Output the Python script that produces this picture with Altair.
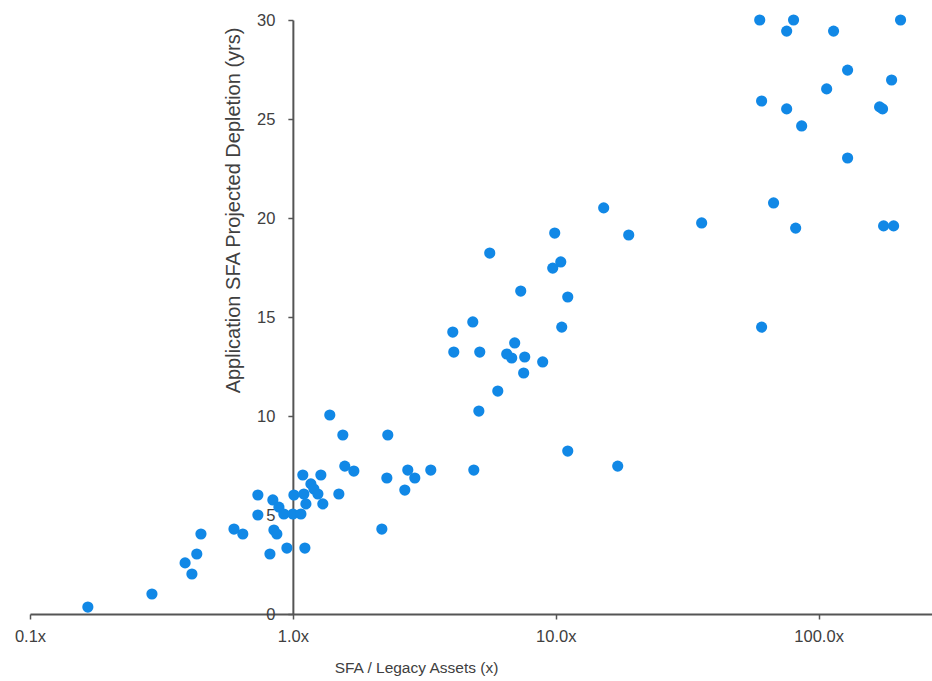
import altair as alt
import pandas as pd
import math

# SFA / Legacy Assets ratio (x) and projected depletion (years)
ratio = [
    0.166, 0.291, 0.389, 0.413, 0.431, 0.447, 0.597, 0.645, 0.736, 0.736,
    0.818, 0.839, 0.847, 0.869, 0.885, 0.924, 0.949, 1.009, 1.000, 1.073,
    1.111, 1.091, 1.101, 1.171, 1.202, 1.245, 1.278, 1.121, 1.300, 1.496,
    1.382, 1.549, 2.297, 1.576, 1.706, 2.278, 2.736, 2.910, 3.347, 2.666,
    2.180, 4.879,
    15.22, 35.9, 9.91, 18.95, 5.61, 10.45, 9.74, 7.36, 11.11, 4.836,
    4.058, 10.54, 4.094, 5.14, 6.98, 6.51, 6.80, 7.62, 8.92, 7.55,
    6.02, 5.10, 11.11, 17.21,
    59.7, 80.3, 75.6, 114.0, 205.0, 128.9, 189.5, 107.3, 60.7, 75.6,
    170.6, 175.1, 86.2, 128.9, 67.4, 81.8, 176.7, 192.9, 60.7,
]
years = [
    0.35, 1.01, 2.58, 2.02, 3.03, 4.04, 4.29, 4.04, 6.01, 5.00,
    3.03, 5.76, 4.24, 4.04, 5.40, 5.05, 3.33, 6.01, 5.05, 5.05,
    3.33, 7.02, 6.06, 6.57, 6.31, 6.06, 7.02, 5.56, 5.56, 6.06,
    10.05, 9.04, 9.04, 7.47, 7.22, 6.87, 7.27, 6.87, 7.27, 6.26,
    4.29, 7.27,
    20.51, 19.75, 19.24, 19.14, 18.23, 17.78, 17.47, 16.31, 16.01, 14.75,
    14.24, 14.49, 13.23, 13.23, 13.69, 13.13, 12.93, 12.98, 12.73, 12.17,
    11.26, 10.25, 8.23, 7.47,
    30.0, 30.0, 29.44, 29.44, 30.0, 27.47, 26.97, 26.52, 25.91, 25.51,
    25.61, 25.51, 24.65, 23.03, 20.76, 19.49, 19.6, 19.6, 14.49,
]
x_ticks = [0.1, 1, 10, 100]
y_ticks = [0, 5, 10, 15, 20, 25, 30]

df = pd.DataFrame({"ratio": ratio, "years": years})

FONT = "Liberation Sans, Arial, sans-serif"
TEXT = "#404040"
AXIS = "#555555"

W, H = 902, 594
X_MIN, X_MAX = 0.1, 270
decade = W / (math.log10(X_MAX) - math.log10(X_MIN))
y_axis_offset = -decade  # move y axis to x = 1.0

chart = alt.Chart(df).mark_circle(
    size=125, color="#1188E6", opacity=1, clip=False
).encode(
    x=alt.X(
        "ratio:Q",
        scale=alt.Scale(type="log", domain=[X_MIN, X_MAX], nice=False),
        axis=alt.Axis(
            values=x_ticks,
            labelExpr="format(datum.value, '.1f') + 'x'",
            title="SFA / Legacy Assets (x)",
            titleX=386, titleY=58, titleAlign="center",
            titleBaseline="alphabetic", titleAnchor="start",
            titleFont=FONT, titleFontSize=15.5, titleFontWeight="normal",
            titleColor=TEXT,
            labelFont=FONT, labelFontSize=16.5, labelColor=TEXT,
            labelPadding=9, tickSize=5, tickColor=AXIS, tickWidth=1.5,
            domainColor=AXIS, domainWidth=2, grid=False,
            labelFlush=False, labelOverlap=False,
        ),
    ),
    y=alt.Y(
        "years:Q",
        scale=alt.Scale(domain=[0, 30], nice=False, zero=True),
        axis=alt.Axis(
            values=y_ticks,
            offset=y_axis_offset,
            title="Application SFA Projected Depletion (yrs)",
            titleX=-59, titleY=190, titleAngle=270,
            titleAlign="center", titleBaseline="middle", titleAnchor="start",
            titleFont=FONT, titleFontSize=20, titleFontWeight="normal",
            titleColor=TEXT,
            labelFont=FONT, labelFontSize=16.5, labelColor=TEXT,
            labelPadding=13, tickSize=5, tickColor=AXIS, tickWidth=1.5,
            domainColor=AXIS, domainWidth=2, grid=False,
            labelFlush=False, labelOverlap=False,
        ),
    ),
).properties(
    width=W, height=H,
    autosize=alt.AutoSizeParams(type="none"),
    padding={"left": 30, "top": 20, "right": 0, "bottom": 67},
    background="white",
).configure_view(stroke=None)

chart.save("out.html", embed_options={"renderer": "svg", "actions": False})
